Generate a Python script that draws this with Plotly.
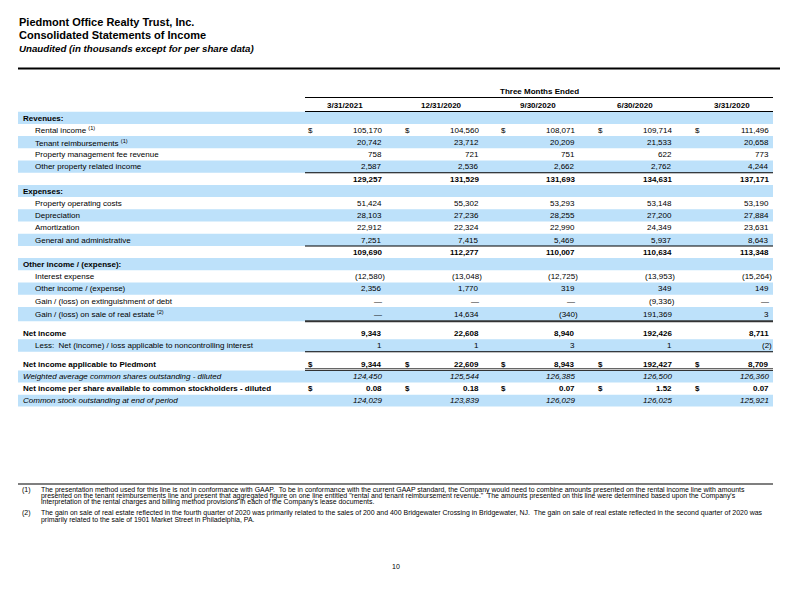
import plotly.graph_objects as go

# ---------------- data ----------------
company = "Piedmont Office Realty Trust, Inc."
statement = "Consolidated Statements of Income"
subtitle = "Unaudited (in thousands except for per share data)"
period_group = "Three Months Ended"
periods = ["3/31/2021", "12/31/2020", "9/30/2020", "6/30/2020", "3/31/2020"]

rental_income = [105170, 104560, 108071, 109714, 111496]
tenant_reimb = [20742, 23712, 20209, 21533, 20658]
pm_fee = [758, 721, 751, 622, 773]
other_prop = [2587, 2536, 2662, 2762, 4244]
total_rev = [129257, 131529, 131693, 134631, 137171]
prop_op = [51424, 55302, 53293, 53148, 53190]
depreciation = [28103, 27236, 28255, 27200, 27884]
amortization = [22912, 22324, 22990, 24349, 23631]
gen_admin = [7251, 7415, 5469, 5937, 8643]
total_exp = [109690, 112277, 110007, 110634, 113348]
interest_exp = [-12580, -13048, -12725, -13953, -15264]
other_inc = [2356, 1770, 319, 349, 149]
gain_ext = [0, 0, 0, -9336, 0]
gain_sale = [0, 14634, -340, 191369, 3]
net_income = [9343, 22608, 8940, 192426, 8711]
nci = [1, 1, 3, 1, -2]
ni_piedmont = [9344, 22609, 8943, 192427, 8709]
wtd_shares = [124450, 125544, 126385, 126500, 126360]
eps_diluted = [0.08, 0.18, 0.07, 1.52, 0.07]
common_out = [124029, 123839, 126029, 126025, 125921]

NB = "\u00a0"
row_labels = [
    "Revenues:",
    "Rental income <sup>(1)</sup>",
    "Tenant reimbursements <sup>(1)</sup>",
    "Property management fee revenue",
    "Other property related income",
    "",
    "Expenses:",
    "Property operating costs",
    "Depreciation",
    "Amortization",
    "General and administrative",
    "",
    "Other income / (expense):",
    "Interest expense",
    "Other income / (expense)",
    "Gain / (loss) on extinguishment of debt",
    "Gain / (loss) on sale of real estate <sup>(2)</sup>",
    "",
    "Net income",
    "Less:" + NB + " Net (income) / loss applicable to noncontrolling interest",
    "",
    "Net income applicable to Piedmont",
    "Weighted average common shares outstanding - diluted",
    "Net income per share available to common stockholders - diluted",
    "Common stock outstanding at end of period",
]
row_values = [
    None, rental_income, tenant_reimb, pm_fee, other_prop, total_rev,
    None, prop_op, depreciation, amortization, gen_admin, total_exp,
    None, interest_exp, other_inc, gain_ext, gain_sale, None,
    net_income, nci, None, ni_piedmont, wtd_shares, eps_diluted, common_out,
]

footnote_marks = ["(1)", "(2)"]
footnote_lines = [
    [
        "The presentation method used for this line is not in conformance with GAAP." + NB + " To be in conformance with the current GAAP standard, the Company would need to combine amounts presented on the rental income line with amounts",
        "presented on the tenant reimbursements line and present that aggregated figure on one line entitled \"rental and tenant reimbursement revenue.\"" + NB + " The amounts presented on this line were determined based upon the Company's",
        "interpretation of the rental charges and billing method provisions in each of the Company's lease documents.",
    ],
    [
        "The gain on sale of real estate reflected in the fourth quarter of 2020 was primarily related to the sales of 200 and 400 Bridgewater Crossing in Bridgewater, NJ." + NB + " The gain on sale of real estate reflected in the second quarter of 2020 was",
        "primarily related to the sale of 1901 Market Street in Philadelphia, PA.",
    ],
]
page_number = "10"

# ---------------- layout / style ----------------
row_kind = ["section", "item", "item", "item", "item", "total",
            "section", "item", "item", "item", "item", "total",
            "section", "item", "item", "item", "item", "spacer",
            "bold", "item", "spacer", "bold", "italic", "bold", "italic"]
row_band = [1, 0, 1, 0, 1, 0, 1, 0, 1, 0, 1, 0, 1, 0, 1, 0, 1, 0, 0, 1, 0, 0, 1, 0, 1]
row_height = [12.2] * 16 + [14.4, 6.0, 12.0, 12.4, 6.3, 12.5, 12.0, 12.2, 11.8]
row_dollar = [0, 1, 0, 0, 0, 0, 0, 0, 0, 0, 0, 0, 0, 0, 0, 0, 0, 0, 0, 0, 0, 1, 0, 1, 0]
row_dec = [0] * 23 + [2, 0]
row_rule = {4: "single", 10: "single", 16: "heavy", 19: "single", 21: "double"}

FONT = "Liberation Sans, Arial, sans-serif"
BAND = "#BDE1FA"
X_LEFT, X_RIGHT = 18, 773
TABLE_LEFT = 305
COL_RIGHT = [383, 479.5, 576, 673, 770]
Y0 = 111.7
PAGE_MARGIN = 8  # browser body margin around the plot div

ann = []
shapes = []


def add_text(x, y, text, size=8, anchor="left", weight=None):
    if weight == "bold":
        text = "<b>" + text + "</b>"
    elif weight == "italic":
        text = "<i>" + text + "</i>"
    elif weight == "bolditalic":
        text = "<b><i>" + text + "</i></b>"
    ann.append(dict(x=x, y=y, xref="x", yref="y", text=text, showarrow=False,
                    xanchor=anchor, yanchor="middle", borderpad=0,
                    font=dict(family=FONT, size=size, color="black")))


def fmt(v, dec):
    if v == 0:
        return "\u2014"
    s = f"{abs(v):,.{dec}f}"
    return f"({s})" if v < 0 else s


def hline(x0, x1, y, width=1.0, color="black"):
    shapes.append(dict(type="rect", xref="x", yref="y", x0=x0, x1=x1,
                       y0=y - width / 2, y1=y + width / 2,
                       fillcolor=color, line=dict(width=0), layer="above"))


# titles
add_text(X_LEFT, 22, company, 11, weight="bold")
add_text(X_LEFT, 35, statement, 11, weight="bold")
add_text(X_LEFT, 48, subtitle, 9.7, weight="bolditalic")
hline(X_LEFT, 780, 68.5, 2)

# header
add_text(539, 91.7, period_group, 8, anchor="center", weight="bold")
hline(TABLE_LEFT, X_RIGHT, 97.5, 1)
for i, p in enumerate(periods):
    add_text(COL_RIGHT[i] - 38, 105, p, 8, anchor="center", weight="bold")
hline(TABLE_LEFT, X_RIGHT, 111.5, 1)

# rows
y = Y0
for r, (label, vals) in enumerate(zip(row_labels, row_values)):
    h = row_height[r]
    top, bot, mid = y, y + h, y + h / 2
    kind = row_kind[r]
    if row_band[r]:
        shapes.append(dict(type="rect", xref="x", yref="y", x0=X_LEFT, x1=X_RIGHT,
                           y0=top, y1=bot, fillcolor=BAND, line=dict(width=0), layer="below"))
    weight = {"section": "bold", "bold": "bold", "italic": "italic"}.get(kind)
    vweight = {"total": "bold", "bold": "bold", "italic": "italic"}.get(kind)
    if label:
        lx = 34 if kind == "item" else 22
        add_text(lx, mid + 0.3, label, 8, weight=weight)
    if vals is not None:
        for c, v in enumerate(vals):
            xr = COL_RIGHT[c] + (3.3 if v < 0 else 0)
            add_text(xr, mid + 0.3, fmt(v, row_dec[r]), 8, anchor="right", weight=vweight)
            if row_dollar[r]:
                add_text(COL_RIGHT[c] - 76, mid + 0.3, "$", 8,
                         weight="bold" if kind == "bold" else None)
    rule = row_rule.get(r)
    if rule == "single":
        hline(TABLE_LEFT, X_RIGHT, bot, 1)
    elif rule == "heavy":
        hline(TABLE_LEFT, X_RIGHT, bot, 2, "#333333")
    elif rule == "double":
        hline(TABLE_LEFT, X_RIGHT, bot - 1.8, 1, "#333333")
        hline(TABLE_LEFT, X_RIGHT, bot, 1, "#333333")
    y = bot

# footnotes
hline(X_LEFT, X_RIGHT, 484, 1)
fy = [[489.6, 495.8, 502.0], [513.4, 519.6]]
for k, mark in enumerate(footnote_marks):
    add_text(21, fy[k][0], mark, 7)
    for j, line in enumerate(footnote_lines[k]):
        add_text(40, fy[k][j], line, 6.95)

add_text(396, 566, page_number, 7, anchor="center")

W, H = 792 - PAGE_MARGIN, 612 - PAGE_MARGIN
fig = go.Figure()
fig.update_layout(
    width=W, height=H,
    margin=dict(l=0, r=0, t=0, b=0),
    paper_bgcolor="white", plot_bgcolor="white",
    xaxis=dict(range=[PAGE_MARGIN, 792], visible=False, fixedrange=True),
    yaxis=dict(range=[612, PAGE_MARGIN], visible=False, fixedrange=True),
    annotations=ann, shapes=shapes, showlegend=False,
)
fig.write_html("out.html")
